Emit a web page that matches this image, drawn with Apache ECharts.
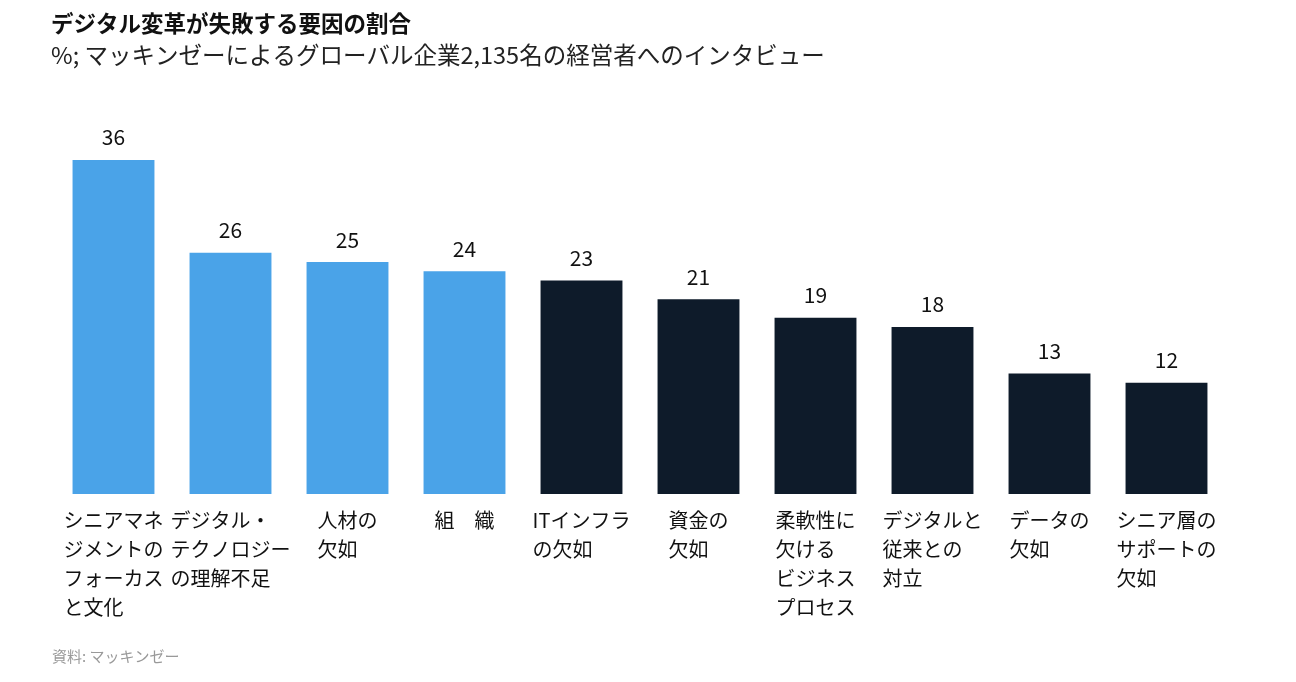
<!DOCTYPE html>
<html>
<head>
<meta charset="utf-8">
<script src="https://cdn.jsdelivr.net/npm/echarts@6/dist/echarts.min.js"></script>
<style>
html,body{margin:0;padding:0;background:#fff;}
#c{width:1296px;height:682px;}
</style>
</head>
<body>
<div id="c"></div>
<script>
const titleText = 'デジタル変革が失敗する要因の割合';
const subtitleText = '%; マッキンゼーによるグローバル企業2,135名の経営者へのインタビュー';
const sourceText = '資料: マッキンゼー';
const categories = [
  'シニアマネ\nジメントの\nフォーカス\nと文化',
  'デジタル・\nテクノロジー\nの理解不足',
  '人材の\n欠如',
  '組　織',
  'ITインフラ\nの欠如',
  '資金の\n欠如',
  '柔軟性に\n欠ける\nビジネス\nプロセス',
  'デジタルと\n従来との\n対立',
  'データの\n欠如',
  'シニア層の\nサポートの\n欠如'
];
const values = [36, 26, 25, 24, 23, 21, 19, 18, 13, 12];
const highlighted = [true, true, true, true, false, false, false, false, false, false];

const BLUE = '#4AA3E8';
const DARK = '#0E1B2A';
const FONT = '"Noto Sans CJK JP", "Noto Sans", sans-serif';

const chart = echarts.init(document.getElementById('c'));
chart.setOption({
  animation: false,
  backgroundColor: '#fff',
  title: [
    {text: titleText, left: 46, top: 7,
     textStyle: {fontFamily: FONT, fontSize: 22.5, fontWeight: 'bold', color: '#111'}},
    {text: subtitleText, left: 46, top: 38,
     textStyle: {fontFamily: FONT, fontSize: 23.5, fontWeight: 'normal', color: '#222'}},
    {text: sourceText, left: 47, top: 644,
     textStyle: {fontFamily: FONT, fontSize: 15, fontWeight: 'normal', color: '#999'}}
  ],
  grid: {left: 55, right: 71, top: 160, bottom: 188, containLabel: false},
  xAxis: {
    type: 'category',
    data: categories,
    axisLine: {show: false},
    axisTick: {show: false},
    axisLabel: {
      interval: 0,
      margin: 12,
      align: 'center',
      verticalAlign: 'top',
      formatter: function (v) {
        return v.split('\n').map(s => '{l|' + s + '}').join('\n');
      },
      rich: {
        l: {align: 'left', fontFamily: FONT, fontSize: 20, lineHeight: 29, color: '#111'}
      }
    }
  },
  yAxis: {
    type: 'value',
    min: 0,
    max: 36,
    show: false,
    splitLine: {show: false}
  },
  series: [{
    type: 'bar',
    barWidth: '70%',
    data: values.map((v, i) => ({value: v, itemStyle: {color: highlighted[i] ? BLUE : DARK}})),
    label: {
      show: true,
      position: 'top',
      distance: 12,
      fontFamily: FONT,
      fontSize: 21,
      color: '#111'
    }
  }]
});
</script>
</body>
</html>
